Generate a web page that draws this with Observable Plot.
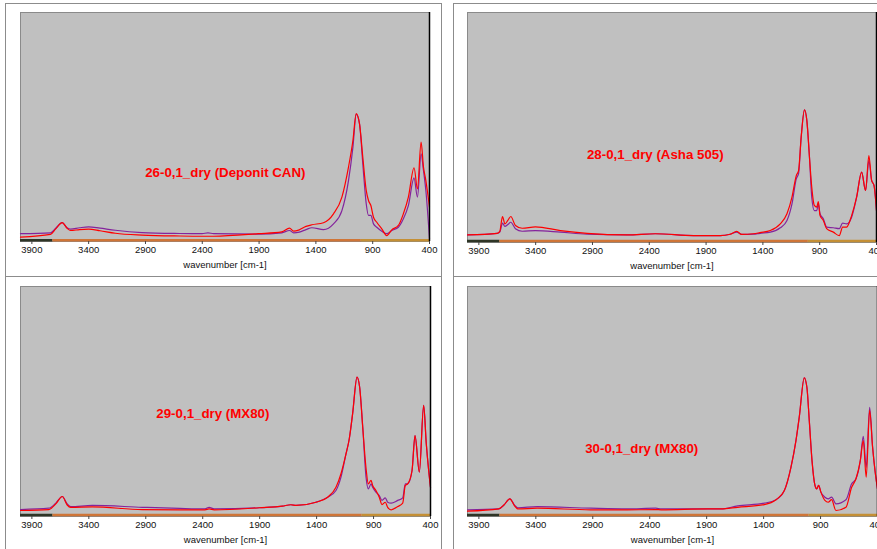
<!DOCTYPE html>
<html>
<head>
<meta charset="utf-8">
<script src="https://cdn.jsdelivr.net/npm/d3@7"></script>
<script src="https://cdn.jsdelivr.net/npm/@observablehq/plot@0.6"></script>
<style>
  html, body { margin: 0; padding: 0; background: #fff; }
  #wrap { position: relative; width: 877px; height: 549px; overflow: hidden; background: #fff; }
  .frame { position: absolute; box-sizing: border-box; border: 1px solid #8c8c8c; }
  .panel { position: absolute; width: 436px; height: 273px; }
  .panel svg { display: block; max-width: none !important; }
</style>
</head>
<body>
<div id="wrap"></div>
<script>
// ---------- data (absorbance, % of panel height) ----------
const xTicks = [3900, 3400, 2900, 2400, 1900, 1400, 900, 400];
const xLabel = "wavenumber [cm-1]";
const titles = ["26-0,1_dry (Deponit CAN)", "28-0,1_dry (Asha 505)", "29-0,1_dry (MX80)", "30-0,1_dry (MX80)"];

// Panel 1: 26-0,1_dry (Deponit CAN)
const p1Wave   = [4000, 3736, 3690, 3633, 3590, 3560, 3480, 3400, 3300, 3165, 2930, 2600, 2402, 2350, 2300, 1907, 1700, 1632, 1596, 1546, 1487, 1435, 1333, 1245, 1171, 1113, 1074, 1045, 1016, 987, 957, 937, 916, 893, 864, 820, 776, 732, 674, 630, 586, 536, 506, 474, 453, 432, 400];
const p1Red    = [1.9, 3.1, 5.5, 8.2, 5.8, 4.8, 5.2, 5.4, 4.7, 3.6, 2.8, 2.4, 2.3, 2.3, 2.3, 3.4, 4.2, 5.8, 4.5, 5.1, 6.6, 7.3, 8.2, 12.1, 19.4, 32.5, 44.1, 55.8, 51.4, 36.8, 22.3, 17.9, 15.7, 10.6, 8.4, 5.5, 2.6, 5.1, 7.0, 12.1, 19.4, 32.2, 23.0, 43.4, 32.5, 26.6, 15.0];
const p1Purple = [3.4, 3.8, 5.8, 8.2, 6.0, 5.4, 6.0, 6.4, 5.8, 4.9, 3.9, 3.5, 3.4, 3.8, 3.4, 3.2, 3.8, 4.8, 3.8, 4.1, 5.2, 6.0, 5.2, 7.7, 13.5, 26.6, 41.2, 55.5, 51.4, 33.9, 16.5, 11.4, 11.4, 7.7, 6.2, 4.5, 3.4, 4.8, 6.2, 9.9, 15.7, 27.8, 19.4, 38.3, 31.0, 22.3, 1.2];

// Panel 2: 28-0,1_dry (Asha 505)
const p2Wave   = [4000, 3739, 3716, 3692, 3671, 3645, 3619, 3578, 3519, 3402, 3182, 2947, 2596, 2347, 2010, 1775, 1688, 1630, 1587, 1482, 1426, 1335, 1247, 1188, 1144, 1106, 1086, 1063, 1034, 1013, 990, 970, 947, 926, 912, 897, 868, 839, 780, 728, 698, 663, 619, 575, 531, 496, 467, 443, 422, 400];
const p2Red    = [3.3, 4.0, 4.8, 11.3, 8.1, 9.6, 11.3, 7.4, 6.2, 6.8, 5.2, 4.0, 3.3, 3.8, 3.0, 3.0, 3.6, 4.8, 3.5, 3.8, 4.3, 5.2, 8.1, 12.5, 19.7, 29.1, 31.3, 45.8, 57.7, 53.0, 37.1, 24.1, 16.1, 15.4, 17.8, 11.7, 9.6, 6.0, 4.5, 3.0, 6.7, 6.7, 11.7, 19.7, 30.6, 22.6, 37.8, 27.0, 24.8, 13.9];
const p2Purple = [3.3, 4.0, 4.5, 8.4, 7.0, 7.8, 8.8, 6.0, 4.9, 5.2, 4.5, 3.6, 3.3, 3.8, 3.0, 3.0, 3.6, 4.5, 3.5, 3.6, 4.0, 4.5, 6.4, 9.6, 16.8, 27.7, 29.9, 45.8, 57.7, 53.0, 37.1, 19.7, 13.9, 13.9, 16.8, 12.5, 10.3, 6.7, 6.4, 6.0, 8.4, 8.1, 11.0, 19.7, 30.6, 22.6, 35.7, 27.0, 24.8, 13.9];

// Panel 3: 29-0,1_dry (MX80)
const p3Wave   = [4000, 3751, 3690, 3633, 3590, 3560, 3370, 2930, 2600, 2380, 2344, 2300, 1904, 1700, 1626, 1580, 1406, 1303, 1230, 1186, 1142, 1113, 1084, 1045, 1022, 995, 966, 946, 922, 908, 879, 850, 826, 797, 776, 746, 688, 644, 621, 600, 562, 536, 498, 460, 437, 416, 400];
const p3Red    = [2.6, 3.0, 5.5, 8.7, 5.0, 4.0, 4.2, 3.0, 2.9, 2.9, 3.3, 2.9, 3.8, 4.5, 5.1, 4.8, 6.2, 8.4, 12.7, 18.6, 27.2, 33.8, 44.6, 60.6, 56.2, 38.8, 21.0, 14.2, 15.7, 13.5, 11.3, 8.4, 5.2, 6.2, 4.0, 2.9, 4.3, 5.8, 13.5, 14.2, 20.0, 35.2, 19.3, 48.3, 31.6, 20.0, 12.7];
const p3Purple = [3.0, 3.6, 5.8, 8.7, 5.5, 4.3, 4.8, 4.0, 3.5, 3.3, 4.0, 3.3, 3.8, 4.5, 5.1, 4.8, 6.2, 8.4, 11.3, 17.1, 27.2, 33.8, 44.6, 60.6, 56.2, 38.8, 17.1, 12.0, 14.2, 12.7, 10.6, 9.1, 7.0, 8.1, 6.2, 5.8, 7.0, 8.1, 14.2, 14.2, 20.0, 35.2, 19.3, 48.3, 31.6, 20.0, 12.7];

// Panel 4: 30-0,1_dry (MX80)
const p4Wave   = [4000, 3725, 3680, 3628, 3585, 3558, 3388, 2919, 2600, 2347, 2300, 1892, 1775, 1628, 1394, 1291, 1218, 1160, 1116, 1087, 1043, 1020, 999, 975, 949, 934, 917, 897, 862, 833, 803, 765, 677, 627, 589, 551, 525, 499, 469, 443, 422, 400];
const p4Red    = [2.3, 3.3, 5.0, 7.7, 4.5, 3.3, 3.6, 2.9, 2.9, 3.0, 2.9, 3.3, 3.3, 4.0, 5.2, 7.3, 11.3, 21.4, 33.0, 43.2, 60.3, 56.2, 41.7, 24.3, 13.5, 12.0, 13.5, 10.6, 7.0, 6.2, 7.3, 2.6, 4.0, 12.7, 16.4, 24.3, 33.0, 17.1, 46.1, 30.1, 20.0, 12.0];
const p4Purple = [2.9, 3.3, 5.0, 7.7, 4.8, 3.8, 4.3, 3.6, 3.3, 3.6, 3.3, 3.3, 3.3, 4.6, 5.8, 7.3, 11.3, 21.4, 33.0, 43.2, 60.3, 56.2, 41.7, 24.3, 13.5, 12.0, 13.5, 10.6, 8.4, 7.7, 8.4, 5.5, 7.3, 14.2, 16.4, 24.3, 34.8, 21.4, 47.5, 30.1, 20.0, 12.0];

// title anchor positions (wavenumber, value)
const titleWave  = [2197, 2347, 2311, 2470];
const titleValue = [30.1, 38.3, 44.8, 29.6];

// baseline colour band (flat reference traces)
const bandBreaks = [4000, 3715, 1000, 400];
const bandColors = ["#2e3526", "#cf7537", "#c48f35"];

// ---------- drawing ----------
const panelData = [
  [p1Wave, p1Red, p1Purple],
  [p2Wave, p2Red, p2Purple],
  [p3Wave, p3Red, p3Purple],
  [p4Wave, p4Red, p4Purple]
];
const layout = [
  {left: 5,   top: 3,   ml: 15, mr: 12, mt: 9,  mb: 35},
  {left: 453, top: 3,   ml: 14, mr: 13, mt: 9,  mb: 34},
  {left: 5,   top: 276, ml: 15, mr: 11, mt: 10, mb: 33},
  {left: 453, top: 276, ml: 14, mr: 12, mt: 10, mb: 33}
];
const bandSegs = bandColors.map((c, i) => ({a: bandBreaks[i], b: bandBreaks[i + 1], c}));
const wrap = document.getElementById("wrap");

panelData.forEach(([wave, red, purple], i) => {
  const L = layout[i];
  const redRows = wave.map((w, j) => ({w, v: red[j]}));
  const purpleRows = wave.map((w, j) => ({w, v: purple[j]}));
  const chart = Plot.plot({
    width: 436, height: 273,
    marginLeft: L.ml, marginRight: L.mr, marginTop: L.mt, marginBottom: L.mb,
    x: {domain: [4000, 400], axis: null},
    y: {domain: [0, 100], axis: null},
    style: {fontFamily: "'Liberation Sans', Arial, sans-serif", fontSize: "9.5px", color: "#111", background: "transparent", maxWidth: "none"},
    marks: [
      Plot.frame({fill: "#c0c0c0", stroke: "#8a8a8a"}),
      Plot.ruleY(bandSegs, {y: 0.6, x1: "a", x2: "b", stroke: "c", strokeWidth: 2.5}),
      Plot.line(purpleRows, {x: "w", y: "v", stroke: "#84239c", strokeWidth: 1.2, curve: "monotone-x"}),
      Plot.line(redRows, {x: "w", y: "v", stroke: "#ff0000", strokeWidth: 1.2, curve: "monotone-x"}),
      Plot.ruleX([400], {stroke: "#000", strokeWidth: 1.5}),
      Plot.axisX(xTicks, {tickSize: 3, tickPadding: 2, tickFormat: d => String(d), label: null, stroke: "#444", fill: "#111"}),
      Plot.text([{w: titleWave[i], v: titleValue[i], t: titles[i]}], {x: "w", y: "v", text: "t", fill: "#ff0000", fontWeight: "bold", fontSize: 13.3}),
      Plot.text([xLabel], {frameAnchor: "bottom", dy: 26, fill: "#111", fontSize: 9.5})
    ]
  });
  const holder = document.createElement("div");
  holder.className = "panel";
  holder.style.left = L.left + "px";
  holder.style.top = L.top + "px";
  holder.appendChild(chart);
  wrap.appendChild(holder);
  const fr = document.createElement("div");
  fr.className = "frame";
  fr.style.left = L.left + "px";
  fr.style.top = L.top + "px";
  fr.style.width = "437px";
  fr.style.height = (i < 2 ? 274 : 300) + "px";
  wrap.appendChild(fr);
});
</script>
</body>
</html>
